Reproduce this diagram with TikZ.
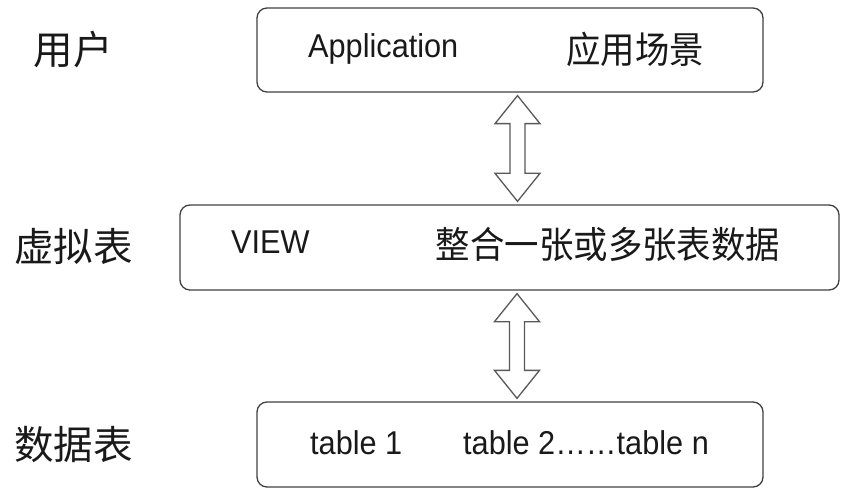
\documentclass[tikz,border=0pt]{standalone}
\usepackage{fontspec}
\usepackage{graphicx}
\setmainfont{Liberation Sans}
\newfontfamily\cjk{Noto Sans CJK SC}
\usetikzlibrary{calc}

\tikzset{
	box/.style = {draw = black!75, line width = 1.3pt, rounded corners = 10pt, inner sep = 0pt},
	hollow/.style = {draw = black!65, line width = 1.3pt, fill = white, line join = miter},
	lbl/.style = {inner sep = 0pt, font = \cjk\fontsize{39.5}{42}\selectfont, text = black!90},
	word/.style = {inner sep = 0pt, anchor = base west, font = \fontsize{33}{36}\selectfont, text = black!90},
	hanzi/.style = {inner sep = 0pt, font = \cjk\fontsize{37}{40}\selectfont, text = black!90}
}

% squeeze text a little, like the original
\newcommand{\narrow}[2][0.93]{\scalebox{#1}[1]{#2}}

% hollow double arrow between two boxes
\newcommand{\dblarrow}[2]{%
	\draw[hollow] let \p1 = ($(#1.south) + (7.5, 3)$), \p2 = ($(#2.north) + (7.5, -3)$) in
		(\p1) -- (\x1 + 22.5pt, \y1 - 28pt) -- (\x1 + 7.5pt, \y1 - 28pt)
		-- (\x1 + 7.5pt, \y2 + 28pt) -- (\x1 + 22.5pt, \y2 + 28pt) -- (\x1, \y2)
		-- (\x1 - 22.5pt, \y2 + 28pt) -- (\x1 - 7.5pt, \y2 + 28pt)
		-- (\x1 - 7.5pt, \y1 - 28pt) -- (\x1 - 22.5pt, \y1 - 28pt) -- cycle;
}

\begin{document}
\begin{tikzpicture}[x = 1pt, y = -1pt]
				\useasboundingbox (0, 0) rectangle (851, 489);
				
				% boxes
				\node[box, minimum width = 506pt, minimum height = 84pt] (app) at (510, 50) {};
				\node[box, minimum width = 659pt, minimum height = 85pt] (view) at (509.5, 247.5) {};
				\node[box, minimum width = 506pt, minimum height = 85pt] (tables) at (510, 444.5) {};
				
				% arrows
				\dblarrow{app}{view}
				\dblarrow{view}{tables}
				
				% layers
				\node[lbl] (user) at (73, 50) {用户};
				\node[lbl] (virtual) at (73.5, 246.5) {虚拟表};
				\node[lbl] (data) at (73.5, 445) {数据表};
				
				% box texts
				\node[word] (appen) at (308, 58) {\narrow{Application}};
				\node[hanzi] (appcn) at (635, 49.5) {\narrow{应用场景}};
				\node[word] (viewen) at (231, 253) {\narrow{VIEW}};
				\node[hanzi] (viewcn) at (608, 244.5) {\narrow{整合一张或多张表数据}};
				\node[word] (tabone) at (310, 454) {\narrow{table 1}};
				\node[word] (tabn) at (463, 454) {\narrow{table 2……table n}};
				
			\end{tikzpicture}
\end{document}
